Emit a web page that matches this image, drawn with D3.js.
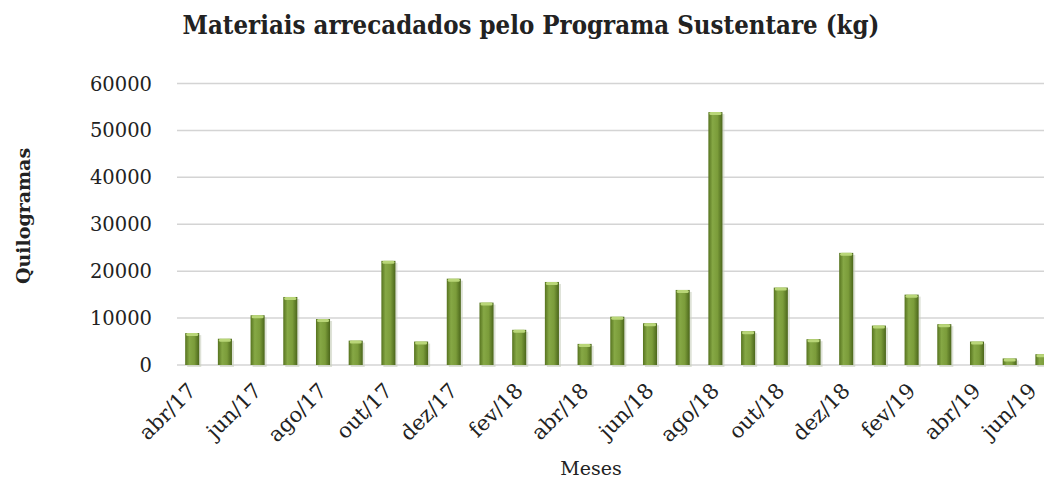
<!DOCTYPE html>
<html>
<head>
<meta charset="utf-8">
<script src="https://cdn.jsdelivr.net/npm/d3@7"></script>
<style>
  body { margin: 0; background: #fff; }
  text { font-family: "DejaVu Serif", "Liberation Serif", serif; fill: #222; }
</style>
</head>
<body>
<div id="chart"></div>
<script>
// months from abr/17 to jun/19
var months = ["abr/17", "mai/17", "jun/17", "jul/17", "ago/17", "set/17", "out/17", "nov/17", "dez/17",
    "jan/18", "fev/18", "mar/18", "abr/18", "mai/18", "jun/18", "jul/18", "ago/18", "set/18", "out/18",
    "nov/18", "dez/18", "jan/19", "fev/19", "mar/19", "abr/19", "mai/19", "jun/19"];
var kilos = [6800, 5600, 10600, 14500, 9800, 5200, 22200, 5000, 18400, 13300, 7500, 17700, 4500,
    10300, 8900, 16000, 53900, 7200, 16500, 5500, 23900, 8400, 15000, 8700, 5000, 1400, 2300];
var yTicks = [0, 10000, 20000, 30000, 40000, 50000, 60000];

var width = 1044, height = 481;

var svg = d3.select("#chart")
    .append("svg")
    .attr("width", width)
    .attr("height", height);

var defs = svg.append("defs");
var grad = defs.append("linearGradient")
    .attr("id", "barGrad")
    .attr("x1", "0%").attr("x2", "100%")
    .attr("y1", "0%").attr("y2", "0%");
grad.append("stop").attr("offset", "0%").attr("stop-color", "#56731f");
grad.append("stop").attr("offset", "30%").attr("stop-color", "#86a845");
grad.append("stop").attr("offset", "65%").attr("stop-color", "#7b9c3a");
grad.append("stop").attr("offset", "100%").attr("stop-color", "#4b661b");

var x0 = 177, step = 32.7;
var xScale = d3.scaleBand()
    .domain(months)
    .range([x0, x0 + step * (months.length - 0.57 + 0.5)])
    .paddingInner(0.57)
    .paddingOuter(0.25);

var yScale = d3.scaleLinear()
    .domain([0, 60000])
    .range([365, 83.5]);

// gridlines
svg.append("g")
    .selectAll("line")
    .data(yTicks)
    .enter().append("line")
    .attr("x1", x0)
    .attr("x2", width)
    .attr("y1", function(d) { return yScale(d); })
    .attr("y2", function(d) { return yScale(d); })
    .attr("stroke", "#d4d4d4")
    .attr("stroke-width", 1.5);

// y axis labels
svg.append("g")
    .selectAll("text")
    .data(yTicks)
    .enter().append("text")
    .attr("x", 152)
    .attr("y", function(d) { return yScale(d); })
    .attr("dy", "0.36em")
    .attr("text-anchor", "end")
    .style("font-size", "19.5px")
    .text(function(d) { return d; });

// bar shadows
svg.append("g")
    .selectAll("rect")
    .data(kilos)
    .enter().append("rect")
    .attr("x", function(d, i) { return xScale(months[i]) + 2; })
    .attr("y", function(d) { return yScale(d) + 2; })
    .attr("width", xScale.bandwidth())
    .attr("height", function(d) { return yScale(0) - yScale(d); })
    .attr("fill", "#c8cfbd")
    .attr("opacity", 0.6);

// bars
svg.append("g")
    .selectAll("rect")
    .data(kilos)
    .enter().append("rect")
    .attr("x", function(d, i) { return xScale(months[i]); })
    .attr("y", function(d) { return yScale(d); })
    .attr("width", xScale.bandwidth())
    .attr("height", function(d) { return yScale(0) - yScale(d); })
    .attr("fill", "url(#barGrad)");

// light top caps
svg.append("g")
    .selectAll("rect")
    .data(kilos)
    .enter().append("rect")
    .attr("x", function(d, i) { return xScale(months[i]) + 1; })
    .attr("y", function(d) { return yScale(d); })
    .attr("width", xScale.bandwidth() - 2)
    .attr("height", 3)
    .attr("rx", 1.5)
    .attr("fill", "#b9d678");

// x labels, every other month (last one kept inside the frame)
svg.append("g")
    .selectAll("text")
    .data(months.filter(function(m, i) { return i % 2 === 0; }))
    .enter().append("text")
    .attr("transform", function(d) {
        var xe = Math.min(xScale(d) + xScale.bandwidth() / 2 + 5, width - 6);
        return "translate(" + xe + ",392) rotate(-45)";
    })
    .attr("text-anchor", "end")
    .style("font-size", "21px")
    .text(function(d) { return d; });

// title
svg.append("text")
    .attr("x", 531)
    .attr("y", 34)
    .attr("text-anchor", "middle")
    .style("font-size", "26px")
    .style("font-weight", "bold")
    .attr("textLength", 697)
    .attr("lengthAdjust", "spacingAndGlyphs")
    .text("Materiais arrecadados pelo Programa Sustentare (kg)");

// y axis title
svg.append("text")
    .attr("transform", "translate(30,216) rotate(-90)")
    .attr("text-anchor", "middle")
    .style("font-size", "19px")
    .style("font-weight", "bold")
    .text("Quilogramas");

// x axis title
svg.append("text")
    .attr("x", 591)
    .attr("y", 475)
    .attr("text-anchor", "middle")
    .style("font-size", "19px")
    .text("Meses");
</script>
</body>
</html>
